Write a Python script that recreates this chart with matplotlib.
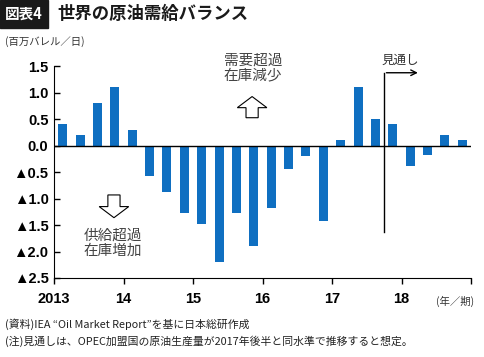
import matplotlib
matplotlib.use("Agg")
import matplotlib.pyplot as plt
from matplotlib.patches import FancyArrow

plt.rcParams['font.family'] = ['Liberation Sans', 'Noto Sans CJK JP', 'DejaVu Sans']
jp = ['Noto Sans CJK JP', 'DejaVu Sans']

# quarterly balance 2013Q1 - 2018Q4 (million barrels/day)
balance = [0.42, 0.21, 0.81, 1.12, 0.30, -0.58, -0.88, -1.27,
           -1.48, -2.2, -1.27, -1.89, -1.17, -0.44, -0.19, -1.43,
           0.11, 1.12, 0.51, 0.42, -0.39, -0.18, 0.21, 0.11]
year_labels = ['2013', '14', '15', '16', '17', '18', '']
y_ticks = [1.5, 1.0, 0.5, 0.0, -0.5, -1.0, -1.5, -2.0, -2.5]
y_labels = ['1.5', '1.0', '0.5', '0.0', '▲0.5', '▲1.0', '▲1.5', '▲2.0', '▲2.5']
forecast_start = 19

fig = plt.figure(figsize=(4.84, 3.57), dpi=100)
ax = fig.add_axes([0.1116, 0.2213, 0.8616, 0.5927])

x = [i + 0.5 for i in range(len(balance))]
ax.bar(x, balance, width=0.52, color='#0f6fc1', zorder=2)
ax.axhline(0, color='black', lw=1.0, zorder=3)

ax.set_xlim(0, 24)
ax.set_ylim(-2.5, 1.5)
ax.set_xticks(range(0, 25, 4))
ax.set_xticklabels(year_labels, fontsize=10.5, fontweight='bold')
ax.set_yticks(y_ticks)
ax.set_yticklabels(y_labels, fontsize=10.5, fontweight='bold')
for lab in ax.get_yticklabels():
    lab.set_fontfamily(['Liberation Sans', 'DejaVu Sans'])
ax.tick_params(axis='y', direction='in', length=4, width=1, pad=4)
ax.tick_params(axis='x', direction='out', length=4, width=1, pad=6)
ax.spines['top'].set_visible(False)
ax.spines['right'].set_visible(False)

# forecast marker
ax.plot([forecast_start, forecast_start], [-1.63, 1.38], color='black', lw=1.0, zorder=4)
ax.annotate('', xy=(21.1, 1.38), xytext=(forecast_start - 0.03, 1.38),
            arrowprops=dict(arrowstyle='->', color='black', lw=1.0))
ax.text(19.95, 1.62, '見通し', fontsize=9, family=jp, ha='center', va='center', color='#333333')

# annotations
ax.text(11.45, 1.47, '需要超過\n在庫減少', fontsize=10.5, family=jp, ha='center', va='center',
        color='#444444', linespacing=1.15)
ax.text(3.4, -1.84, '供給超過\n在庫増加', fontsize=10.5, family=jp, ha='center', va='center',
        color='#444444', linespacing=1.15)
ax.add_patch(FancyArrow(11.4, 0.53, 0, 0.4, width=0.7, head_width=1.7, head_length=0.21,
                        length_includes_head=True, fc='white', ec='black', lw=0.8, zorder=5))
ax.add_patch(FancyArrow(3.45, -0.93, 0, -0.43, width=0.7, head_width=1.7, head_length=0.21,
                        length_includes_head=True, fc='white', ec='black', lw=0.8, zorder=5))

# header
fig.patches.append(plt.Rectangle((0, 1 - 28 / 357), 48 / 484, 28 / 357, transform=fig.transFigure,
                                 color='#1a1a1a'))
fig.text(24 / 484, 1 - 14 / 357, '図表4', color='white', fontsize=10.5, fontweight='bold',
         family=jp, ha='center', va='center')
fig.text(57 / 484, 1 - 14 / 357, '世界の原油需給バランス', color='#1a1a1a', fontsize=12.5,
         fontweight='bold', family=jp, ha='left', va='center')
fig.text(5 / 484, 1 - 42 / 357, '(百万バレル／日)', fontsize=7.5, family=jp, ha='left',
         va='center', color='#333333')
fig.text(455 / 484, 1 - 301 / 357, '(年／期)', fontsize=7.5, family=jp, ha='center',
         va='center', color='#333333')
fig.text(5 / 484, 1 - 324 / 357, '(資料)IEA “Oil Market Report”を基に日本総研作成', fontsize=7.8,
         family=jp, ha='left', va='center', color='#222222')
fig.text(5 / 484, 1 - 341 / 357, '(注)見通しは、OPEC加盟国の原油生産量が2017年後半と同水準で推移すると想定。',
         fontsize=7.8, family=jp, ha='left', va='center', color='#222222')

fig.savefig('out.png', dpi=100)
